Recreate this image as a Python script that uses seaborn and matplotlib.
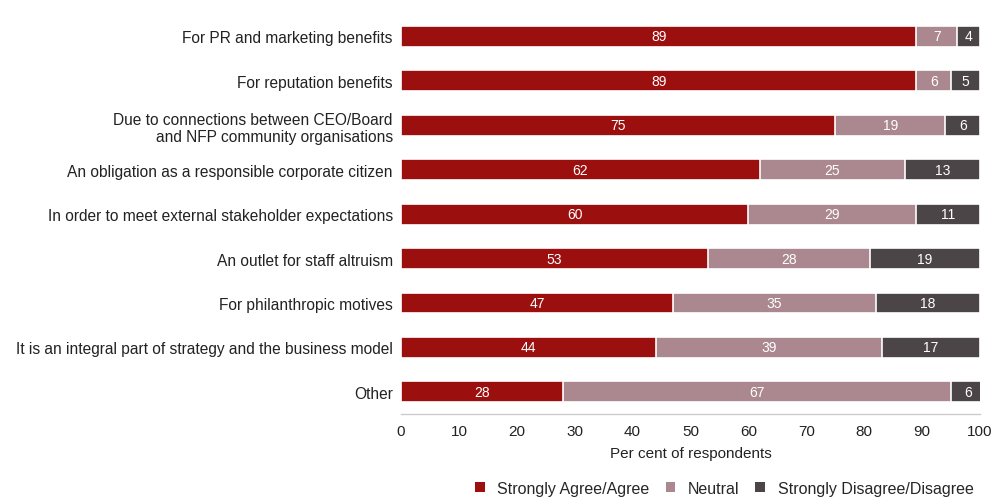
import matplotlib
matplotlib.use("Agg")
import matplotlib.pyplot as plt
from matplotlib.patches import Patch
import numpy as np
import pandas as pd
import seaborn as sns

categories = [
    "For PR and marketing benefits",
    "For reputation benefits",
    "Due to connections between CEO/Board\nand NFP community organisations",
    "An obligation as a responsible corporate citizen",
    "In order to meet external stakeholder expectations",
    "An outlet for staff altruism",
    "For philanthropic motives",
    "It is an integral part of strategy and the business model",
    "Other",
]
agree = [89, 89, 75, 62, 60, 53, 47, 44, 28]
neutral = [7, 6, 19, 25, 29, 28, 35, 39, 67]
disagree = [4, 5, 6, 13, 11, 19, 18, 17, 6]
series_names = ["Strongly Agree/Agree", "Neutral", "Strongly Disagree/Disagree"]
xticks = [0, 10, 20, 30, 40, 50, 60, 70, 80, 90, 100]

colors = ["#9c0f0f", "#ab8890", "#4b4547"]

sns.set_theme(style="white")
plt.rcParams["font.family"] = ["Liberation Sans", "DejaVu Sans"]

df = pd.DataFrame({"category": categories, "agree": agree,
                   "neutral": neutral, "disagree": disagree})
df["c1"] = df["agree"]
df["c2"] = df["agree"] + df["neutral"]
df["c3"] = df["c2"] + df["disagree"]

fig = plt.figure(figsize=(9.96, 5.02), dpi=100)
ax = fig.add_axes([0.4026, 0.173, 0.5814, 0.797])

# stacked bars drawn back-to-front as cumulative totals
for col, color in zip(["c3", "c2", "c1"], colors[::-1]):
    sns.barplot(data=df, x=col, y="category", orient="h", color=color,
                width=0.47, edgecolor="white", linewidth=1.2,
                saturation=1, ax=ax)

# segment value labels
for i in range(len(categories)):
    starts = [0, agree[i], agree[i] + neutral[i]]
    for s, v in zip(starts, [agree[i], neutral[i], disagree[i]]):
        ax.text(s + v / 2, i, str(v), ha="center", va="center",
                color="white", fontsize=10)

ax.set_xlim(0, 100)
ax.set_ylim(len(categories) - 0.5, -0.5)
ax.set_xticks(xticks)
ax.set_xticklabels([str(t) for t in xticks], fontsize=11, color="#222222")
ax.tick_params(axis="y", labelsize=11.2, length=0, pad=6, colors="#222222")
ax.tick_params(axis="x", length=0, pad=7)
ax.set_ylabel("")
ax.set_xlabel("Per cent of respondents", fontsize=11, color="#222222",
              labelpad=6)
for side in ["top", "right", "left"]:
    ax.spines[side].set_visible(False)
ax.spines["bottom"].set_color("#cccccc")
ax.spines["bottom"].set_linewidth(1)

handles = [Patch(facecolor=c, edgecolor="none") for c in colors]
fig.legend(handles, series_names, loc="lower right", ncol=3,
           bbox_to_anchor=(0.992, -0.018), frameon=False, fontsize=11.5,
           handlelength=0.6, handleheight=0.6, handletextpad=0.8,
           columnspacing=1.0)

fig.savefig("out.png", dpi=100)
